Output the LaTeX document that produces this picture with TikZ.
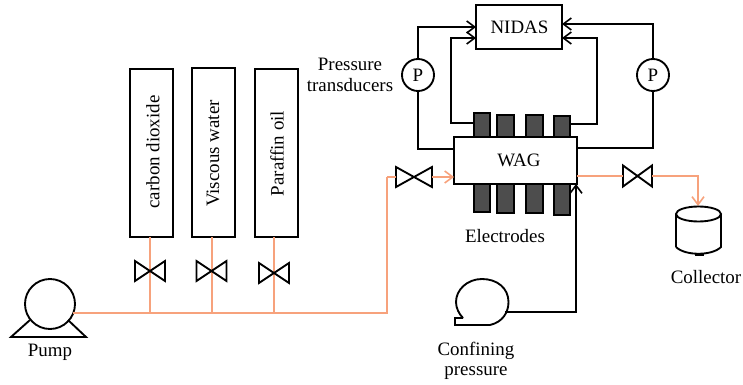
\documentclass[tikz,border=0pt]{standalone}
\usepackage{fontspec}
\setmainfont{Liberation Serif}
\usetikzlibrary{arrows.meta}
\definecolor{pipe}{HTML}{F7A27C}
\definecolor{elec}{HTML}{4D4D4D}
\tikzset{
  x=0.75pt,y=-0.75pt,
  every node/.style={font=\fontsize{14.2}{17}\selectfont,inner sep=0pt,outer sep=0pt},
  blk/.style={draw=black,line width=1.4pt,line join=miter},
  oline/.style={draw=pipe,line width=1.5pt},
  kline/.style={draw=black,line width=1.4pt},
  barb/.style={-{Straight Barb[length=6pt,width=9pt,line width=1.2pt]}},
  obarb/.style={-{Straight Barb[length=6pt,width=9pt,line width=1.2pt]}},
  box/.style={blk,fill=white,rectangle,anchor=north west},
  elecbox/.style={draw=black,line width=1.2pt,fill=elec,rectangle,anchor=north west},
  circ/.style={blk,fill=white,circle,inner sep=0pt},
  valvebox/.style={rectangle,anchor=center,inner sep=0pt},
}
\begin{document}
\begin{tikzpicture}
\useasboundingbox (0,0) rectangle (743,385);
% columns
\node[box,minimum width=32.25pt,minimum height=126pt] (c1) at (130,69) {};
\node[box,minimum width=32.25pt,minimum height=126.75pt] (c2) at (192,68) {};
\node[box,minimum width=32.25pt,minimum height=126pt] (c3) at (255,69) {};
\node[rotate=90] at (153,152) {carbon dioxide};
\node[rotate=90] at (213,153.5) {Viscous water};
\node[rotate=90] at (277,153.5) {Paraffin oil};
% pump
\node[circ,minimum size=37.5pt] (pump) at (50,304) {};
\coordinate (pl) at (30,320);
\coordinate (pr) at (68,320);
\coordinate (pbl) at (11,337);
\coordinate (pbr) at (86,337);
\draw[blk] (pl)--(pbl)--(pbr)--(pr);
\node at (50,352) {Pump};
% pipe network
\coordinate (j1) at (150,313);
\coordinate (j2) at (212,313);
\coordinate (j3) at (274,313);
\coordinate (j4) at (387,313);
\coordinate (j5) at (387,177);
\coordinate (ps) at (73,313);
\draw[oline] (ps)--(j4)--(j5);
\draw[oline] (c1.south -| j1)--(j1);
\draw[oline] (c2.south -| j2)--(j2);
\draw[oline] (c3.south -| j3)--(j3);
% column valves
\node[valvebox,minimum width=22.5pt,minimum height=15pt] (v1) at (150,271) {};
\node[valvebox,minimum width=22.5pt,minimum height=15pt] (v2) at (211.5,271) {};
\node[valvebox,minimum width=22.5pt,minimum height=15pt] (v3) at (274,273) {};
\draw[blk] (v1.north west)--(v1.south east)--(v1.north east)--(v1.south west)--cycle;
\draw[blk] (v2.north west)--(v2.south east)--(v2.north east)--(v2.south west)--cycle;
\draw[blk] (v3.north west)--(v3.south east)--(v3.north east)--(v3.south west)--cycle;
% electrodes
\node[elecbox,minimum width=12pt,minimum height=21pt] (t1) at (474,113) {};
\node[elecbox,minimum width=12.75pt,minimum height=19.5pt] (t2) at (497,115) {};
\node[elecbox,minimum width=12.75pt,minimum height=19.5pt] (t3) at (526,115) {};
\node[elecbox,minimum width=12pt,minimum height=18.75pt] (t4) at (554,116) {};
\node[elecbox,minimum width=12pt,minimum height=27pt] (b1) at (474,176) {};
\node[elecbox,minimum width=12.75pt,minimum height=27.75pt] (b2) at (497,176) {};
\node[elecbox,minimum width=12.75pt,minimum height=27.75pt] (b3) at (526,176) {};
\node[elecbox,minimum width=12pt,minimum height=29.25pt] (b4) at (554,176) {};
% WAG
\node[box,minimum width=92.25pt,minimum height=35.25pt] (wag) at (454,137) {};
\node at (519,160) {WAG};
\node at (505,236) {Electrodes};
% NIDAS
\node[box,minimum width=64.5pt,minimum height=33pt] (nidas) at (476,5) {};
\node at (519.5,27.5) {NIDAS};
% transducers
\node[circ,minimum size=24pt] (pa) at (418,75) {P};
\node[circ,minimum size=24pt] (pb) at (653,75) {P};
\node at (350,64) {Pressure};
\node at (350,85) {transducers};
\coordinate (a1) at (418,27);
\coordinate (a2) at (418,149);
\coordinate (b1c) at (653,24);
\coordinate (b2c) at (653,148);
\coordinate (i1) at (451,38);
\coordinate (i1b) at (451,123);
\coordinate (i2) at (597,38);
\coordinate (i2b) at (597,124);
\draw[kline,barb] (pa.north)--(a1)--(a1 -| nidas.west);
\draw[kline] (pa.south)--(a2)--(a2 -| wag.west);
\draw[kline,barb] (pb.north)--(b1c)--(b1c -| nidas.east);
\draw[kline] (pb.south)--(b2c)--(b2c -| wag.east);
\draw[kline,barb] (i1b -| t1.west)--(i1b)--(i1)--(i1 -| nidas.west);
\draw[kline,barb] (i2b -| t4.east)--(i2b)--(i2)--(i2 -| nidas.east);
% inlet valve
\node[valvebox,minimum width=27pt,minimum height=15pt] (vin) at (414,177) {};
\draw[blk] (vin.north west)--(vin.south east)--(vin.north east)--(vin.south west)--cycle;
\draw[oline] (j5)--(vin.west);
\draw[oline,obarb] (vin.east)--(vin.east -| wag.west);
% outlet valve
\node[valvebox,minimum width=21.75pt,minimum height=15.75pt] (vout) at (637.5,176) {};
\draw[blk] (vout.north west)--(vout.south east)--(vout.north east)--(vout.south west)--cycle;
\draw[oline] (wag.east |- vout.west)--(vout.west);
\coordinate (o1) at (698,176);
\coordinate (o2) at (698,206);
\draw[oline,obarb] (vout.east)--(o1)--(o2);
% collector
\coordinate (cl) at (676,214);
\coordinate (cr) at (721,214);
\coordinate (cbl) at (676,247);
\coordinate (cbr) at (721,247);
\coordinate (cm1) at (695,254.5);
\coordinate (cm2) at (704,254.5);
\draw[blk] (cbl)--(cl) arc[start angle=180,end angle=-180,x radius=22.5,y radius=-7.5];
\draw[blk] (cr)--(cbr) .. controls (712,256) and (685,256) .. (cbl);
\draw[black,line width=2pt] (cm1)--(cm2);
\node at (706,277) {Collector};
% confining pump
\coordinate (ct1) at (463,318);
\coordinate (ct2) at (455,318);
\coordinate (ct3) at (455,325);
\coordinate (ct4) at (490,325);
\coordinate (co) at (505,312);
\coordinate (cc) at (576,312);
\coordinate (ce) at (576,184);
\draw[blk,fill=white] (ct1)--(ct2)--(ct3)--(ct4) .. controls (503,322) and (508.5,312) .. (508.5,302)
  .. controls (508.5,288) and (497,279) .. (482,279)
  .. controls (467,279) and (456,290) .. (456,302)
  .. controls (456,308) and (459,314) .. (ct1);
\draw[kline,barb] (co)--(cc)--(ce);
\node at (476,351) {Confining};
\node at (476,373) {pressure};
\end{tikzpicture}
\end{document}
